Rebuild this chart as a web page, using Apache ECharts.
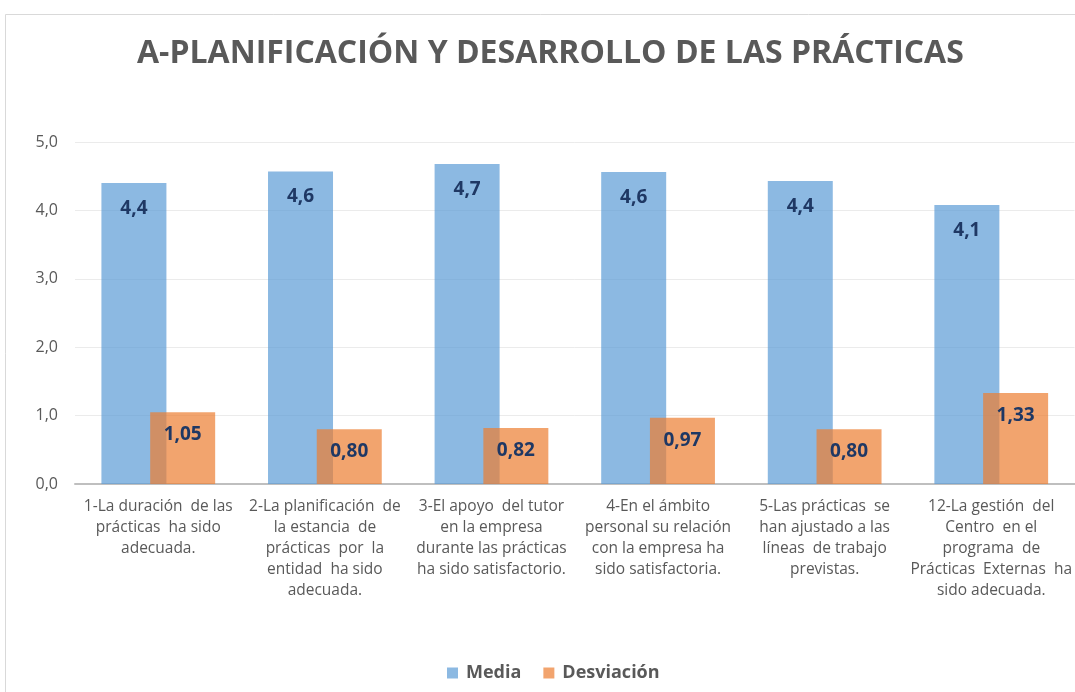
<!DOCTYPE html>
<html>
<head>
<meta charset="utf-8">
<script src="https://cdn.jsdelivr.net/npm/echarts@6/dist/echarts.min.js"></script>
<style>html,body{margin:0;padding:0;background:#fff}#c{width:1075px;height:692px}</style>
</head>
<body>
<div id="c"></div>
<script>
const categories = [
  "1-La duración  de las\nprácticas  ha sido\nadecuada.",
  "2-La planificación  de\nla estancia  de\nprácticas  por  la\nentidad  ha sido\nadecuada.",
  "3-El apoyo  del tutor\nen la empresa\ndurante las prácticas\nha sido satisfactorio.",
  "4-En el ámbito\npersonal su relación\ncon la empresa ha\nsido satisfactoria.",
  "5-Las prácticas  se\nhan ajustado a las\nlíneas  de trabajo\nprevistas.",
  "12-La gestión  del\nCentro  en el\nprograma  de\nPrácticas  Externas  ha\nsido adecuada."
];
const media = [4.40, 4.57, 4.68, 4.56, 4.43, 4.08];
const desviacion = [1.05, 0.80, 0.82, 0.97, 0.80, 1.33];
const yTicks = [0, 1, 2, 3, 4, 5];

const FONT = "'Open Sans', 'Liberation Sans', sans-serif";
const fmt = (v, d) => v.toFixed(d).replace('.', ',');

const chart = echarts.init(document.getElementById('c'), null, {renderer: 'canvas'});
chart.setOption({
  backgroundColor: '#ffffff',
  animation: false,
  title: {
    text: 'A-PLANIFICACIÓN Y DESARROLLO DE LAS PRÁCTICAS',
    left: 132,
    top: 33,
    textStyle: {fontFamily: FONT, fontSize: 32, fontWeight: 'bold', color: '#595959'}
  },
  graphic: [{
    type: 'rect', shape: {x: 5.5, y: 14.5, width: 1100, height: 700},
    style: {fill: 'none', stroke: '#d9d9d9', lineWidth: 1}, silent: true, z: -1
  }],
  legend: {
    bottom: 10, left: 447, padding: 0,
    itemWidth: 11, itemHeight: 11, itemGap: 22,
    icon: 'rect',
    textStyle: {fontFamily: FONT, fontSize: 18, fontWeight: 'bold', color: '#595959', padding: [0, 0, 0, 3]},
    data: ['Media', 'Desviación']
  },
  grid: {left: 75, right: 0, top: 142, bottom: 208, containLabel: false},
  xAxis: {
    type: 'category',
    data: categories,
    axisLine: {lineStyle: {color: '#bfbfbf', width: 2}},
    axisTick: {show: false},
    axisLabel: {
      interval: 0, fontFamily: FONT, fontSize: 15.5, color: '#595959',
      lineHeight: 21, margin: 12, align: 'center'
    }
  },
  yAxis: {
    type: 'value', min: yTicks[0], max: yTicks[yTicks.length - 1], interval: 1,
    axisLine: {show: false}, axisTick: {show: false},
    splitLine: {lineStyle: {color: '#ebebeb', width: 1}},
    axisLabel: {
      fontFamily: FONT, fontSize: 16, color: '#595959', margin: 17,
      formatter: v => fmt(v, 1)
    }
  },
  series: [
    {
      name: 'Media', type: 'bar', data: media,
      barWidth: 65, barGap: '-25%',
      itemStyle: {color: 'rgba(91,155,213,0.7)'},
      label: {
        show: true, position: 'insideTop', distance: 16,
        fontFamily: FONT, fontSize: 19, fontWeight: 'bold', color: '#1F3864',
        formatter: p => fmt(p.value, 1)
      }
    },
    {
      name: 'Desviación', type: 'bar', data: desviacion,
      barWidth: 65,
      itemStyle: {color: 'rgba(237,125,49,0.7)'},
      label: {
        show: true, position: 'insideTop', distance: 13,
        fontFamily: FONT, fontSize: 19, fontWeight: 'bold', color: '#1F3864',
        formatter: p => fmt(p.value, 2)
      }
    }
  ]
});
</script>
</body>
</html>
